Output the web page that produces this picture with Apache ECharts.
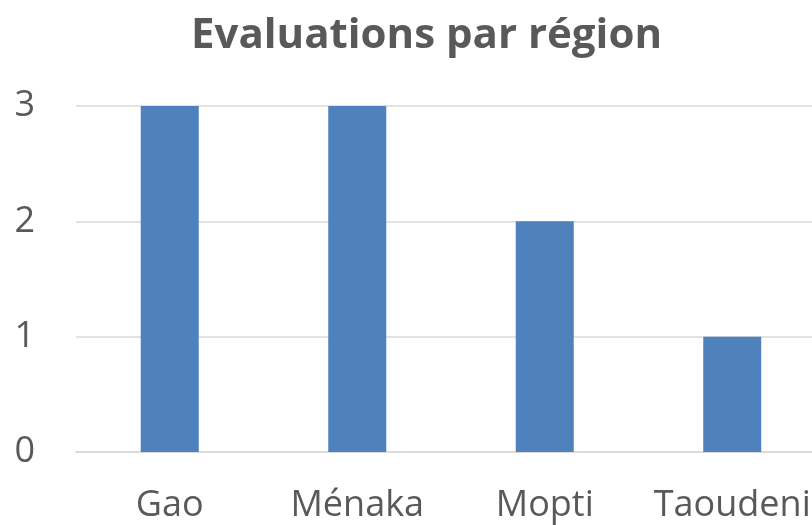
<!DOCTYPE html>
<html>
<head>
<meta charset="utf-8">
<script src="https://cdn.jsdelivr.net/npm/echarts@6/dist/echarts.min.js"></script>
<style>
  html, body { margin: 0; padding: 0; background: #fff; }
  #chart { width: 812px; height: 525px; }
</style>
</head>
<body>
<div id="chart"></div>
<script>
// chart data
var regions = ["Gao", "Ménaka", "Mopti", "Taoudeni"];
var evaluations = [3, 3, 2, 1];
var yTicks = [0, 1, 2, 3];

var chart = echarts.init(document.getElementById("chart"));
chart.setOption({
  animation: false,
  title: {
    text: "Evaluations par région",
    left: 186,
    top: 10,
    textStyle: {
      fontFamily: "Open Sans",
      fontWeight: "bold",
      fontSize: 42,
      color: "#595959"
    }
  },
  grid: {
    left: 76,
    width: 750,
    top: 106,
    bottom: 73,
    containLabel: false,
    outerBoundsMode: "none"
  },
  xAxis: {
    type: "category",
    data: regions,
    axisLine: { lineStyle: { color: "#d9d9d9", width: 1.5 } },
    axisTick: { show: false },
    axisLabel: {
      interval: 0,
      margin: 36,
      fontFamily: "Open Sans",
      fontSize: 36,
      color: "#595959"
    }
  },
  yAxis: {
    type: "value",
    min: yTicks[0],
    max: yTicks[yTicks.length - 1],
    interval: 1,
    axisLine: { show: false },
    axisTick: { show: false },
    splitLine: { lineStyle: { color: "#d9d9d9", width: 1.5 } },
    axisLabel: {
      margin: 41,
      fontFamily: "Open Sans",
      fontSize: 36,
      color: "#595959"
    }
  },
  series: [
    {
      type: "bar",
      data: evaluations,
      barWidth: 58,
      itemStyle: { color: "#4f81bd" }
    }
  ]
});
</script>
</body>
</html>
